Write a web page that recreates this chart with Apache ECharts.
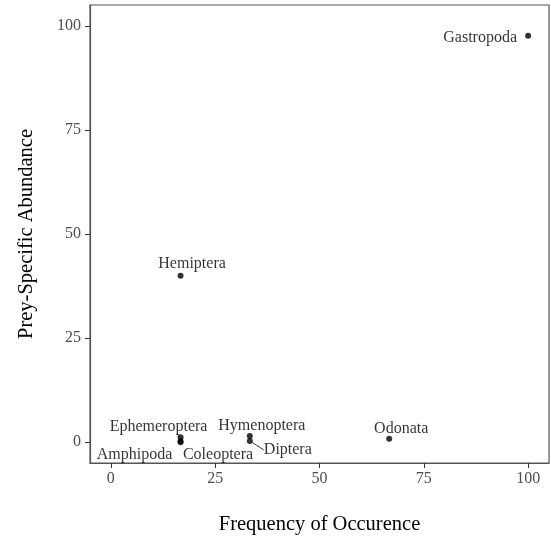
<!DOCTYPE html>
<html><head><meta charset="utf-8">
<script src="https://cdn.jsdelivr.net/npm/echarts@6/dist/echarts.min.js"></script>
<style>html,body{margin:0;padding:0;background:#fff}#c{width:551px;height:537px}</style>
</head><body><div id="c"></div>
<script>
const taxa = ['Gastropoda','Hemiptera','Odonata','Ephemeroptera','Amphipoda','Coleoptera','Hymenoptera','Diptera'];
const frequency = [100, 16.7, 66.7, 16.7, 16.7, 16.7, 33.3, 33.3];
const abundance = [97.6, 40.0, 0.8, 1.2, 0.3, 0.0, 1.5, 0.3];
const xTicks = [0, 25, 50, 75, 100];
const yTicks = [0, 25, 50, 75, 100];
// label offsets (px) from each point, like the repelled labels in the original
const labelDx = [-48, 11.5, 12, -22, -46, 37.5, 12, 38];
const labelDy = [1.5, -12, -10, -10, 13.5, 12.5, -10.5, 9];

const font = 'Liberation Serif';
const chart = echarts.init(document.getElementById('c'));
const axisCommon = {
  type: 'value', min: -5, max: 105, interval: 25,
  nameLocation: 'middle',
  nameTextStyle: {fontFamily: font, fontSize: 20.5, color: '#000'},
  axisLine: {show: true, onZero: false, lineStyle: {color: '#555', width: 1.2}},
  splitLine: {show: false},
  axisTick: {show: true, length: 5, lineStyle: {color: '#333'}},
  axisLabel: {fontFamily: font, fontSize: 16, color: '#4d4d4d', margin: 9}
};
chart.setOption({
  animation: false,
  grid: {left: 90, top: 5, right: 2, bottom: 74, show: true, borderColor: '#555', borderWidth: 1.2,
    containLabel: false, outerBoundsMode: 'none'},
  xAxis: Object.assign({}, axisCommon, {
    name: 'Frequency of Occurence', nameGap: 51,
    axisTick: Object.assign({}, axisCommon.axisTick, {customValues: xTicks}),
    axisLabel: Object.assign({}, axisCommon.axisLabel, {customValues: xTicks, margin: 8})
  }),
  yAxis: Object.assign({}, axisCommon, {
    name: 'Prey-Specific Abundance', nameGap: 53,
    axisTick: Object.assign({}, axisCommon.axisTick, {customValues: yTicks}),
    axisLabel: Object.assign({}, axisCommon.axisLabel, {customValues: yTicks})
  }),
  series: [{
    type: 'scatter',
    symbolSize: 6,
    itemStyle: {color: '#000'},
    data: taxa.map((t, i) => ({name: t, value: [frequency[i], abundance[i]],
      labelLine: {show: t === 'Diptera', lineStyle: {color: '#000', width: 0.8}}})),
    label: {show: true, position: 'inside', formatter: p => p.name,
      fontFamily: font, fontSize: 16, color: '#000'},
    labelLayout: p => ({dx: labelDx[p.dataIndex], dy: labelDy[p.dataIndex]})
  }]
});
</script></body></html>
